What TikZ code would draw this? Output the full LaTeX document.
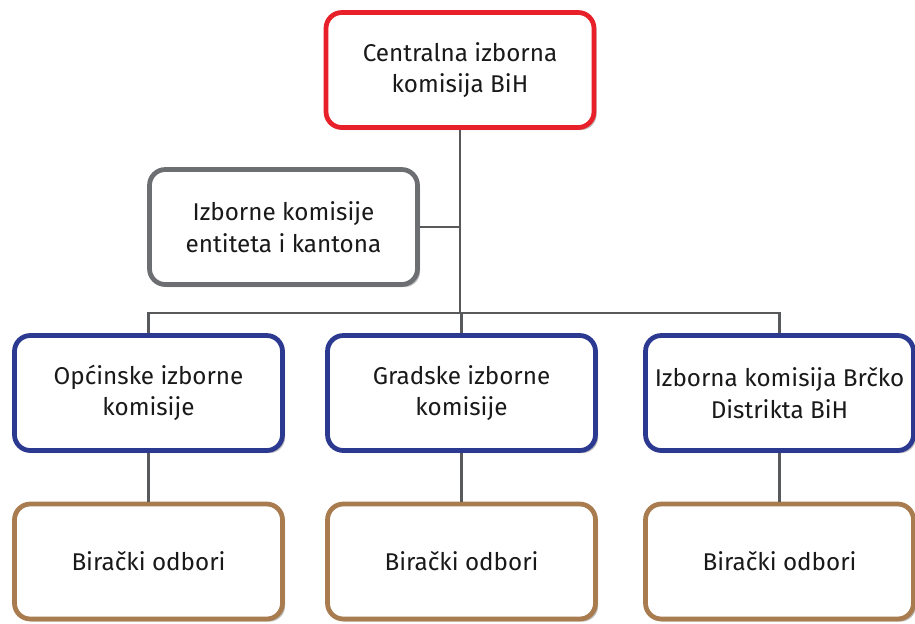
\documentclass[tikz,border=0pt]{standalone}
\usepackage{fontspec}
\setmainfont{Fira Sans}
\usepackage{xcolor}
\usetikzlibrary{positioning, calc, shadows}
\definecolor{cikred}{HTML}{E8202A}
\definecolor{entgray}{HTML}{6D6E71}
\definecolor{munblue}{HTML}{2B3990}
\definecolor{odbrown}{HTML}{A97C50}
\definecolor{linegray}{HTML}{58595B}

\begin{document}
\begin{tikzpicture}[
  box/.style={rectangle, draw, line width=2.7pt, fill=white, rounded corners=9pt, minimum width=5.36cm, minimum height=2.3cm, align=center, font=\fontsize{13.8}{18}\selectfont, text=black!90, drop shadow={shadow xshift=1.5pt, shadow yshift=-1.5pt, opacity=0.25, fill=black}},
  link/.style={draw=linegray, line width=1.3pt}
]
  \useasboundingbox (0, 0) rectangle (18.3, -12.46);

  % Boxes
  \node[box, draw=cikred] (cik) at (9.2, -1.4) {Centralna izborna\\komisija BiH};
  \node[box, draw=entgray] (entiteti) at (5.67, -4.54) {Izborne komisije\\entiteta i kantona};
  \node[box, draw=munblue] (opcinske) at (2.97, -7.86) {Općinske izborne\\komisije};
  \node[box, draw=munblue] (gradske) at (9.23, -7.86) {Gradske izborne\\komisije};
  \node[box, draw=munblue] (brcko) at (15.59, -7.86) {Izborna komisija Brčko\\Distrikta BiH};
  \node[box, draw=odbrown] (odbori1) at (2.97, -11.23) {Birački odbori};
  \node[box, draw=odbrown] (odbori2) at (9.23, -11.23) {Birački odbori};
  \node[box, draw=odbrown] (odbori3) at (15.59, -11.23) {Birački odbori};

  % Links
  \coordinate (split) at (9.2, -6.26);
  \draw[link] (cik.south) -- (split);
  \draw[link] (entiteti.east) -- (entiteti.east -| cik.south);
  \draw[link] (opcinske.north) |- (split) -| (brcko.north);
  \draw[link] (gradske.north) -- (gradske.north |- split);
  \draw[link] (opcinske.south) -- (odbori1.north);
  \draw[link] (gradske.south) -- (odbori2.north);
  \draw[link] (brcko.south) -- (odbori3.north);
\end{tikzpicture}
\end{document}
